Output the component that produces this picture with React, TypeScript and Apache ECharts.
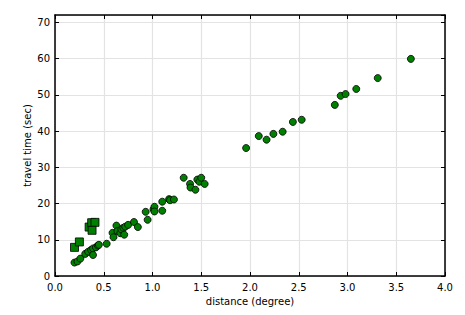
import React, { useEffect, useRef } from "react";
import * as echarts from "echarts";

const circleX = [0.20, 0.23, 0.26, 0.31, 0.34, 0.37, 0.39, 0.39, 0.42, 0.44, 0.45, 0.53, 0.59, 0.60, 0.63, 0.64, 0.67, 0.68, 0.70, 0.71, 0.72, 0.75, 0.81, 0.85, 0.93, 0.95, 1.01, 1.02, 1.02, 1.10, 1.10, 1.17, 1.18, 1.22, 1.32, 1.385, 1.39, 1.44, 1.46, 1.48, 1.50, 1.535, 1.96, 2.09, 2.17, 2.24, 2.335, 2.44, 2.53, 2.87, 2.93, 2.98, 3.09, 3.31, 3.65];
const circleY = [3.7, 4.0, 4.8, 6.1, 6.7, 7.2, 7.6, 5.8, 7.9, 8.4, 8.6, 8.9, 11.9, 10.7, 13.9, 12.4, 11.8, 12.9, 13.3, 11.4, 13.6, 14.1, 14.9, 13.5, 17.7, 15.5, 18.4, 19.1, 17.8, 18.0, 20.5, 21.2, 20.9, 21.1, 27.1, 25.4, 24.4, 23.8, 26.6, 26.0, 27.1, 25.4, 35.3, 38.6, 37.6, 39.2, 39.8, 42.5, 43.1, 47.2, 49.7, 50.2, 51.6, 54.6, 59.9];
const squareX = [0.20, 0.25, 0.35, 0.376, 0.41, 0.38];
const squareY = [7.9, 9.4, 13.5, 14.7, 14.8, 12.6];

const xTicks = [0, 0.5, 1.0, 1.5, 2.0, 2.5, 3.0, 3.5, 4.0];
const yTicks = [0, 10, 20, 30, 40, 50, 60, 70];

const FONT = "DejaVu Sans";

export default function App() {
  const ref = useRef<HTMLDivElement>(null);
  useEffect(() => {
    if (!ref.current) return;
    const chart = echarts.init(ref.current, null, { renderer: "svg" });
    const frameLine = { show: true, onZero: false, lineStyle: { color: "#000", width: 1.5 } };
    const tick = { show: true, inside: true, length: 4, lineStyle: { color: "#000", width: 1 } };
    const labelStyle = { color: "#000", fontFamily: FONT, fontSize: 10 };
    chart.setOption({
      animation: false,
      backgroundColor: "#fff",
      grid: { left: 55, right: 20, top: 15, bottom: 39 },
      xAxis: [
        {
          type: "value", min: xTicks[0], max: xTicks[xTicks.length - 1], interval: 0.5,
          axisLine: frameLine, axisTick: tick,
          axisLabel: { ...labelStyle, margin: 6, formatter: (v: number) => v.toFixed(1) },
          splitLine: { show: true, lineStyle: { color: "#e3e3e3", width: 1.2 } },
          name: "distance (degree)", nameLocation: "middle", nameGap: 20, nameMoveOverlap: false,
          nameTextStyle: { ...labelStyle },
        },
        {
          type: "value", position: "top", min: xTicks[0], max: xTicks[xTicks.length - 1], interval: 0.5,
          axisLine: frameLine, axisTick: tick, axisLabel: { show: false }, splitLine: { show: false },
        },
      ],
      yAxis: [
        {
          type: "value", min: yTicks[0], max: 72, interval: 10,
          axisLine: frameLine, axisTick: tick,
          axisLabel: { ...labelStyle, margin: 5, showMaxLabel: false },
          splitLine: { show: true, lineStyle: { color: "#e3e3e3", width: 1.2 } },
          name: "travel time (sec)", nameLocation: "middle", nameGap: 28, nameMoveOverlap: false,
          nameTextStyle: { ...labelStyle, verticalAlign: "middle" },
        },
        {
          type: "value", position: "right", min: yTicks[0], max: 72, interval: 10,
          axisLine: frameLine, axisTick: tick, axisLabel: { show: false }, splitLine: { show: false },
        },
      ],
      series: [
        {
          type: "scatter", symbol: "rect", symbolSize: 8,
          data: squareX.map((x, i) => [x, squareY[i]]),
          itemStyle: { color: "#008000", borderColor: "#000", borderWidth: 0.8, opacity: 1 },
        },
        {
          type: "scatter", symbol: "circle", symbolSize: 7,
          data: circleX.map((x, i) => [x, circleY[i]]),
          itemStyle: { color: "#008000", borderColor: "#000", borderWidth: 0.8, opacity: 1 },
        },
      ],
    });
    return () => chart.dispose();
  }, []);
  return <div ref={ref} style={{ width: 465, height: 315, margin: -8 }} />;
}
